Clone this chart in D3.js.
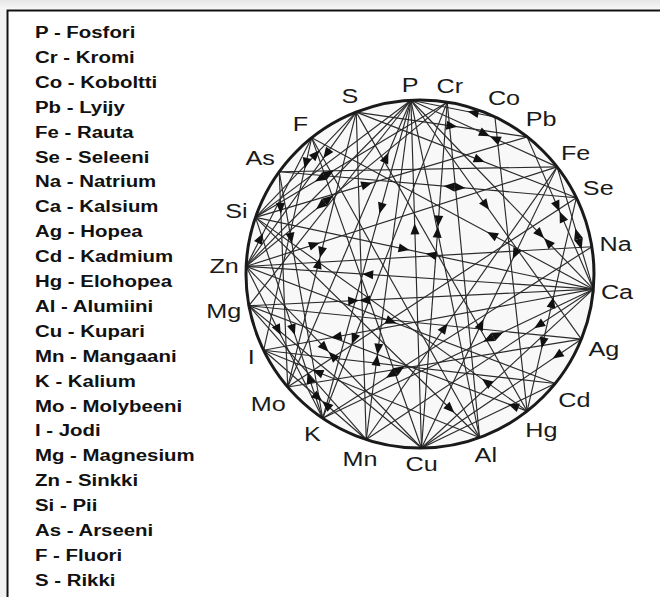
<!DOCTYPE html>
<html>
<head>
<meta charset="utf-8">
<script src="https://cdn.jsdelivr.net/npm/d3@7"></script>
<style>
  body { margin: 0; background: #fff; }
  text { font-family: "Liberation Sans", Arial, sans-serif; }
</style>
</head>
<body>
<svg id="chart" width="660" height="597"></svg>
<script>
// Elements round the wheel, clockwise from the top (same order as the legend)
var symbols = ["P", "Cr", "Co", "Pb", "Fe", "Se", "Na", "Ca", "Ag", "Cd", "Hg", "Al",
               "Cu", "Mn", "K", "Mo", "I", "Mg", "Zn", "Si", "As", "F", "S"];
var names = ["Fosfori", "Kromi", "Koboltti", "Lyijy", "Rauta", "Seleeni", "Natrium",
             "Kalsium", "Hopea", "Kadmium", "Elohopea", "Alumiini", "Kupari", "Mangaani",
             "Kalium", "Molybeeni", "Jodi", "Magnesium", "Sinkki", "Pii", "Arseeni",
             "Fluori", "Rikki"];
// angle on the wheel, degrees clockwise from 12 o'clock
var angles = [-3, 9, 25.5, 38, 52, 64, 81, 95, 112, 129, 142, 160,
              179.5, 198, 214, 229.5, 244, 259.5, 272.5, 289, 306, 321.5, 338.5];

// links: [from, to, arrows]; arrow = [fraction along line, kind]
// kind: "f" points to 'to', "b" points to 'from', "tt" tips meet, "bb" bases meet
var links = [
  ["P", "Cu", [[0.37, "b"]]],
  ["Cr", "Cu", [[0.36, "tt"]]],
  ["P", "K", [[0.34, "f"]]],
  ["Mo", "P", [[0.8, "f"]]],
  ["Si", "Pb", [[0.41, "f"]]],
  ["As", "Se", [[0.59, "bb"]]],
  ["S", "Se", [[0.56, "f"]]],
  ["P", "Ag", [[0.44, "f"]]],
  ["P", "Ca", [[0.73, "tt"]]],
  ["Pb", "Ca", [[0.49, "tt"]]],
  ["Fe", "Ca", [[0.59, "bb"]]],
  ["Ca", "F", [[0.36, "f"]]],
  ["Fe", "Cu", [[0.31, "f"], [0.56, "b"]]],
  ["Si", "Ca", [[0.44, "f"], [0.52, "b"]]],
  ["Zn", "Ca", [[0.35, "b"]]],
  ["Mg", "Ca", [[0.32, "tt"]]],
  ["Zn", "Cd", [[0.47, "f"]]],
  ["Mn", "Fe", [[0.41, "f"]]],
  ["K", "Ca", [[0.63, "bb"]]],
  ["Ca", "Mn", [[0.24, "f"]]],
  ["Hg", "Se", [[0.32, "b"], [0.51, "f"]]],
  ["Ag", "Cu", [[0.15, "f"]]],
  ["Hg", "Si", [[0.15, "f"]]],
  ["Hg", "Mg", [[0.05, "f"]]],
  ["Si", "Al", [[0.87, "f"]]],
  ["K", "Na", [[0.27, "bb"]]],
  ["P", "Mn", [[0.75, "tt"]]],
  ["Cr", "K", [[0.75, "f"]]],
  ["Ca", "I", [[0.78, "f"]]],
  ["Zn", "Cu", [[0.47, "tt"]]],
  ["Al", "I", [[0.75, "f"]]],
  ["Si", "K", [[0.56, "f"], [0.8, "b"]]],
  ["I", "Mn", [[0.57, "tt"]]],
  ["Zn", "K", [[0.42, "f"]]],
  ["Zn", "F", [[0.22, "f"]]],
  ["Zn", "Fe", [[0.22, "f"]]],
  ["S", "Mo", [[0.53, "tt"]]],
  ["As", "Mo", [[0.17, "f"]]],
  ["As", "K", [[0.27, "f"]]],
  ["Si", "Cr", [[0.36, "bb"]]],
  ["Zn", "Cr", [[0.39, "bb"]]],
  ["F", "I", [[0.12, "f"]]],
  ["S", "Si", [[0.4, "b"]]],
  ["S", "Zn", [[0.27, "f"]]],
  ["P", "Co", [[0.74, "b"]]],
  ["S", "Pb", [[0.56, "f"]]],
  ["P", "Fe", [[0.54, "tt"]]],
  ["P", "Zn", []],
  ["P", "Si", []],
  ["P", "Mg", []],
  ["P", "Al", []],
  ["S", "Hg", []],
  ["S", "Mn", []],
  ["F", "Cu", []],
  ["F", "Al", []],
  ["Cu", "Mg", []],
  ["Cu", "Ca", []],
  ["Cu", "Cd", []],
  ["Al", "Cr", []],
  ["Mg", "Ag", []],
  ["Mo", "Se", []],
  ["Zn", "Na", []],
  ["Co", "Hg", []],
  ["As", "Fe", []],
  ["Mn", "Mg", []],
  ["Cd", "I", []],
  ["Ag", "Mo", []]
];

var svg = d3.select("#chart");

// window frame + border of the figure
var grad = svg.append("defs").append("linearGradient")
  .attr("id", "frame").attr("x1", 0).attr("y1", 0).attr("x2", 0).attr("y2", 1);
grad.append("stop").attr("offset", 0).attr("stop-color", "#e6e6e6");
grad.append("stop").attr("offset", 1).attr("stop-color", "#f7f7f7");
svg.append("rect").attr("x", 0).attr("y", 0).attr("width", 660).attr("height", 9)
  .attr("fill", "url(#frame)");
svg.append("rect").attr("x", 0).attr("y", 9).attr("width", 6).attr("height", 588)
  .attr("fill", "#f2f2f2");
svg.append("path")
  .attr("d", "M7.5,597 V10.5 H660")
  .attr("fill", "none").attr("stroke", "#111").attr("stroke-width", 2);

// legend
var legend = svg.append("g");
legend.selectAll("text")
  .data(symbols)
  .enter()
  .append("text")
  .attr("transform", (d, i) => `translate(35, ${38 + i * 24.9}) scale(1.2, 1)`)
  .attr("font-size", "17px")
  .attr("font-weight", "bold")
  .attr("fill", "#111")
  .text((d, i) => d + " - " + names[i]);

// wheel
var cx = 420, cy = 274, r = 174;
var angleScale = d3.scaleLinear().domain([0, 360]).range([0, 2 * Math.PI]);

var nodes = {};
symbols.forEach(function(s, i) {
  var p = d3.pointRadial(angleScale(angles[i]), r);
  nodes[s] = { x: cx + p[0], y: cy + p[1], a: angleScale(angles[i]) };
});

var wheel = svg.append("g");

wheel.append("circle")
  .attr("cx", cx).attr("cy", cy).attr("r", r)
  .attr("fill", "#f8f8f8");

wheel.append("g").selectAll("line")
  .data(links)
  .enter()
  .append("line")
  .attr("x1", d => nodes[d[0]].x)
  .attr("y1", d => nodes[d[0]].y)
  .attr("x2", d => nodes[d[1]].x)
  .attr("y2", d => nodes[d[1]].y)
  .attr("stroke", "#2a2a2a")
  .attr("stroke-width", 1.15);

// arrow heads
var arrowData = [];
links.forEach(function(l) {
  var s = nodes[l[0]], t = nodes[l[1]];
  var dx = t.x - s.x, dy = t.y - s.y;
  var len = Math.sqrt(dx * dx + dy * dy);
  var ux = dx / len, uy = dy / len;
  var deg = Math.atan2(dy, dx) * 180 / Math.PI;
  l[2].forEach(function(a) {
    var px = s.x + dx * a[0], py = s.y + dy * a[0];
    if (a[1] == "f") arrowData.push([px, py, deg]);
    if (a[1] == "b") arrowData.push([px, py, deg + 180]);
    if (a[1] == "tt") {
      arrowData.push([px - ux * 5.5, py - uy * 5.5, deg]);
      arrowData.push([px + ux * 5.5, py + uy * 5.5, deg + 180]);
    }
    if (a[1] == "bb") {
      arrowData.push([px - ux * 5.5, py - uy * 5.5, deg + 180]);
      arrowData.push([px + ux * 5.5, py + uy * 5.5, deg]);
    }
  });
});

wheel.append("g").selectAll("path")
  .data(arrowData)
  .enter()
  .append("path")
  .attr("d", "M5.5,0 L-5.5,-4.5 L-5.5,4.5 Z")
  .attr("transform", d => `translate(${d[0]}, ${d[1]}) rotate(${d[2]})`)
  .attr("fill", "#111");

wheel.append("circle")
  .attr("cx", cx).attr("cy", cy).attr("r", r)
  .attr("fill", "none")
  .attr("stroke", "#1a1a1a")
  .attr("stroke-width", 3);

// element labels round the rim
var labels = wheel.append("g").selectAll("text")
  .data(symbols)
  .enter()
  .append("text")
  .attr("font-size", "21px")
  .attr("fill", "#1a1a1a")
  .attr("text-anchor", "middle")
  .attr("dy", "0.36em")
  .text(d => d);

labels.attr("transform", function(d) {
  var n = nodes[d];
  var hw = this.getComputedTextLength() * 1.2 / 2;
  var lr = r + 7 + hw * Math.abs(Math.sin(n.a)) + 8 * Math.abs(Math.cos(n.a));
  var p = d3.pointRadial(n.a, lr);
  return `translate(${cx + p[0]}, ${cy + p[1]}) scale(1.2, 1)`;
});
</script>
</body>
</html>
